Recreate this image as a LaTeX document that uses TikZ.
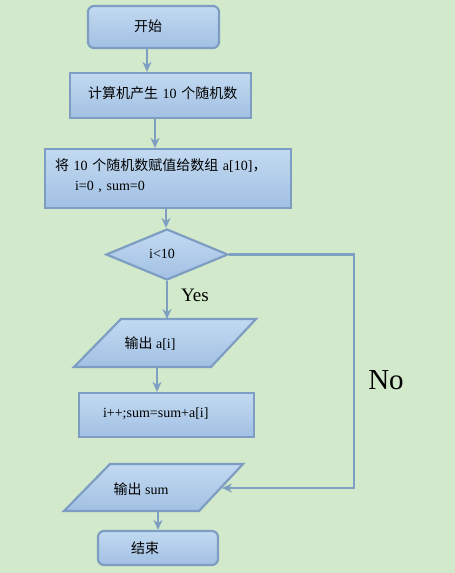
\documentclass[tikz,border=0pt]{standalone}
\usepackage{fontspec}
\setmainfont{Liberation Serif}
\newfontfamily\cjk{Noto Sans CJK SC}
\usetikzlibrary{shapes.geometric,arrows.meta}
\definecolor{bgc}{HTML}{D2E9CB}
\definecolor{topc}{HTML}{C2DAF1}
\definecolor{botc}{HTML}{A2C0E4}
\definecolor{edgec}{HTML}{7E9DC2}
\definecolor{linec}{HTML}{7F9FC2}
\tikzset{
  flowbox/.style={draw=edgec, line width=2.2pt, top color=topc, bottom color=botc, font=\fontsize{14}{18}\selectfont, inner ysep=0pt},
  paracol/.style={draw=edgec, line width=2.2pt, top color=topc, bottom color=botc},
  txt/.style={font=\fontsize{14}{18}\selectfont, inner sep=0pt},
  arr/.style={draw=linec, line width=2.2pt, -{Stealth[length=10pt,width=9pt]}},
}
\begin{document}
\begin{tikzpicture}[x=1pt,y=-1pt]
\fill[bgc] (0,0) rectangle (455,573);
\useasboundingbox (0,0) rectangle (455,573);

\node[flowbox, rounded corners=6pt, minimum width=131, minimum height=42, text width=39, inner xsep=46, align=left] (start) at (153.5,27) {\raisebox{3pt}{\cjk 开始}};
\node[flowbox, minimum width=181, minimum height=45, text width=145, inner xsep=18, align=left] (calc) at (160.5,95.5) {\raisebox{5pt}{{\cjk 计算机产生} 10 {\cjk 个随机数}}};
\node[flowbox, minimum width=246, minimum height=59, text width=226, inner xsep=10, align=left] (assign) at (168,178.5) {{\cjk 将} 10 {\cjk 个随机数赋值给数组} a[10]{\cjk ，}\\[2pt]\hspace*{20pt}i=0 , sum=0\vspace*{6pt}};
\node[flowbox, shape=diamond, minimum width=122, minimum height=51, inner sep=0pt] (dec) at (167,254.5) {};
\node[txt] (dect) at (162,254) {i<10};

% parallelogram 1
\coordinate (p1tl) at (121,319); \coordinate (p1tr) at (256,319);
\coordinate (p1br) at (211,367); \coordinate (p1bl) at (74,367);
\path[paracol] (p1tl) -- (p1tr) -- (p1br) -- (p1bl) -- cycle;
\node[txt] (out1) at (150,344) {{\cjk 输出} a[i]};
\coordinate (p1top) at (167,319);
\coordinate (p1bot) at (157,367);

\node[flowbox, minimum width=175, minimum height=44, text width=127, inner xsep=24, align=left] (inc) at (166.5,415) {\raisebox{5pt}{i++;sum=sum+a[i]}};

% parallelogram 2
\coordinate (p2tl) at (110,464); \coordinate (p2tr) at (243,464);
\coordinate (p2br) at (199,511); \coordinate (p2bl) at (64,511);
\path[paracol] (p2tl) -- (p2tr) -- (p2br) -- (p2bl) -- cycle;
\node[txt] (out2) at (141,489) {{\cjk 输出} sum};
\coordinate (p2in) at (222,488);
\coordinate (p2bot) at (158,511);

\node[flowbox, rounded corners=6pt, minimum width=120, minimum height=34, text width=54, inner xsep=33, align=left] (stop) at (158,548) {\cjk 结束};

\coordinate (corner1) at (354,254.5);
\coordinate (corner2) at (354,488);

\draw[arr] ([xshift=-6.5pt]start.south) -- ([xshift=-6.5pt]start.south |- calc.north);
\draw[arr] ([xshift=-5.5pt]calc.south) -- ([xshift=-5.5pt]calc.south |- assign.north);
\draw[arr] ([xshift=-2pt]assign.south) -- ([xshift=-2pt]assign.south |- dec.north);
\draw[arr] (dec.south) -- (p1top);
\draw[arr] (p1bot) -- (p1bot |- inc.north);
\draw[arr] (p2bot) -- (p2bot |- stop.north);
\draw[arr] (dec.east) -- (corner1) -- (corner2) -- (p2in);

\node[font=\fontsize{19}{22}\selectfont, inner sep=0pt] (yes) at (195,295) {Yes};
\node[font=\fontsize{29}{32}\selectfont, inner sep=0pt] (no) at (386,380) {No};
\end{tikzpicture}
\end{document}
